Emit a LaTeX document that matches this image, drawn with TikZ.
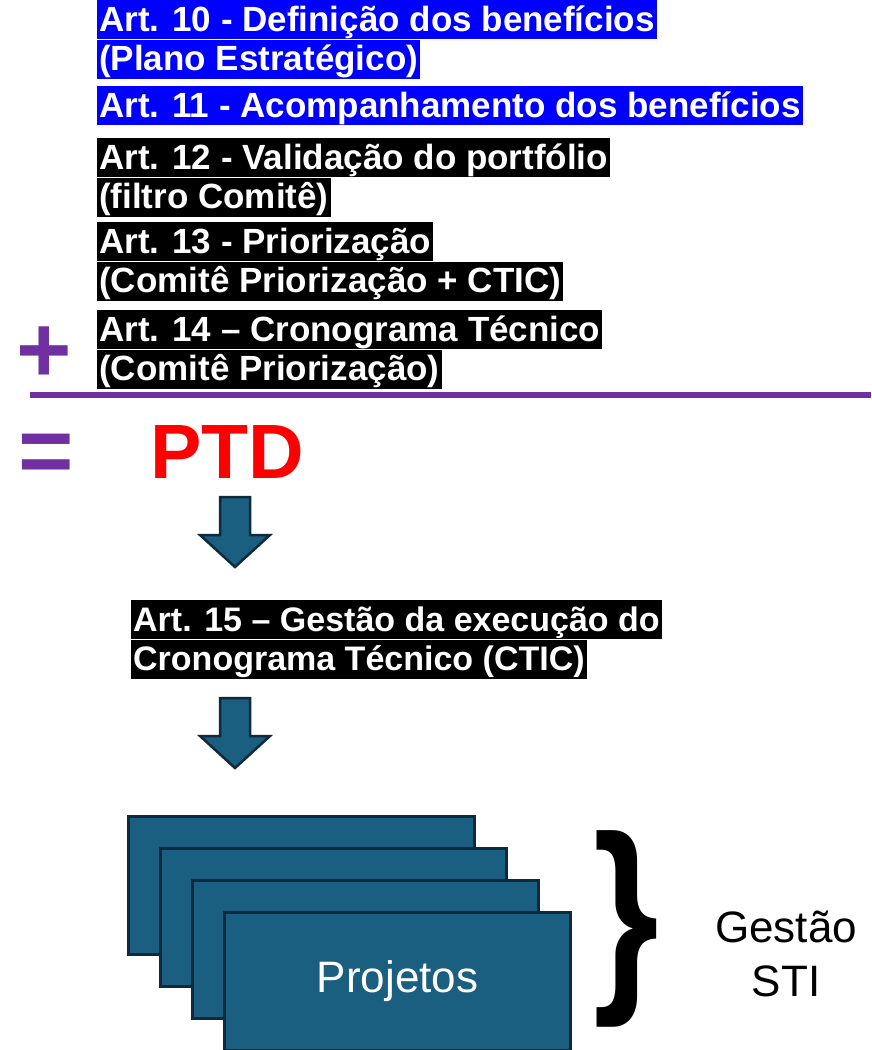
\documentclass[tikz,border=0pt]{standalone}
\usepackage{fontspec}
\setmainfont{Liberation Sans}
\usepackage{tikz}
\usetikzlibrary{positioning}
\definecolor{azulforte}{HTML}{0000FF}
\definecolor{azulprojeto}{HTML}{1A5E80}
\definecolor{bordaescura}{HTML}{0F2A3C}
\definecolor{roxo}{HTML}{7030A0}
\newcommand{\SetaBloco}[2]{\filldraw[seta] (#1-15,#2) -- (#1+15,#2) -- (#1+15,#2+38) -- (#1+35,#2+38) -- (#1,#2+70) -- (#1-35,#2+38) -- (#1-15,#2+38) -- cycle}

\begin{document}
\begin{tikzpicture}[x=1pt,y=-1pt,
	linha/.style={fill=#1, text=white, font=\bfseries\fontsize{35}{39}\selectfont,
		inner xsep=2pt, inner ysep=1pt, text height=30pt, text depth=7pt, anchor=north west},
	sinal/.style={text=roxo, font=\bfseries\fontsize{95}{95}\selectfont, inner sep=0pt},
	seta/.style={fill=azulprojeto, draw=bordaescura, line width=2.5pt, line join=miter},
	projeto/.style={fill=azulprojeto, draw=bordaescura, line width=3pt, anchor=north west,
		minimum width=346pt, minimum height=138pt, inner sep=0pt,
		text=white, font=\fontsize{44}{50}\selectfont}]
\useasboundingbox (0,0) rectangle (871,1050);

%Artigos
\node[linha=azulforte] (art10a) at (97,0) {Art. 10 - Definição dos benefícios};
\node[linha=azulforte] (art10b) at (art10a.south west) {(Plano Estratégico)};
\node[linha=azulforte] (art11) at (97,86) {Art. 11 - Acompanhamento dos benefícios};
\node[linha=black] (art12a) at (97,138) {Art. 12 - Validação do portfólio};
\node[linha=black] (art12b) at (art12a.south west) {(filtro Comitê)};
\node[linha=black] (art13a) at (97,222) {Art. 13 - Priorização};
\node[linha=black] (art13b) at (art13a.south west) {(Comitê Priorização + CTIC)};
\node[linha=black] (art14a) at (97,310) {Art. 14 – Cronograma Técnico};
\node[linha=black] (art14b) at (art14a.south west) {(Comitê Priorização)};

%Soma
\node[sinal] (mais) at (44,355) {+};
\draw[roxo, line width=6pt] (30,395) -- (871,395);
\node[sinal] (igual) at (46,459) {=};
\node[text=red, font=\bfseries\fontsize{77}{77}\selectfont, inner sep=0pt, anchor=base west] (ptd) at (150,478) {PTD};

%Setas
\SetaBloco{235}{497};
\SetaBloco{235}{698};

\node[linha=black, font=\bfseries\fontsize{34}{39}\selectfont] (art15a) at (131,600) {Art. 15 – Gestão da execução do};
\node[linha=black, font=\bfseries\fontsize{34}{39}\selectfont] (art15b) at (art15a.south west) {Cronograma Técnico (CTIC)};

%Projetos
\foreach \i in {0,1,2}
	\node[projeto] (proj\i) at ({127+32*\i},{815+32*\i}) {};
\node[projeto] (proj3) at (223,911) {Projetos};

\node[font=\bfseries\fontsize{211}{211}\selectfont, inner sep=0pt] (chave) at (626,929) {\scalebox{0.8}[1]{\}}};
\node[align=center, font=\fontsize{44}{54}\selectfont] (gestao) at (786,954) {Gestão\\STI};

\end{tikzpicture}
\end{document}
